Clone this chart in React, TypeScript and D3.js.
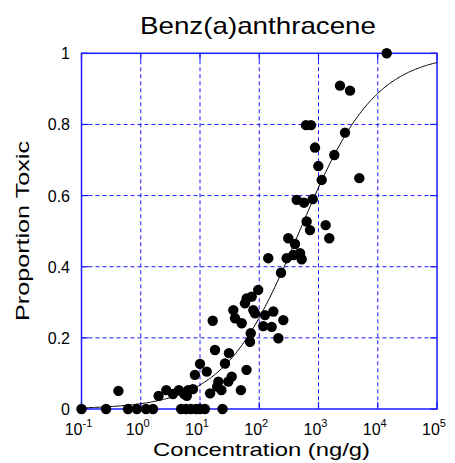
import React from "react";
import * as d3 from "d3";

const title = "Benz(a)anthracene";
const xLabel = "Concentration (ng/g)";
const yLabel = "Proportion Toxic";
const xTickExponents = [-1, 0, 1, 2, 3, 4, 5];
const yTicks = [0, 0.2, 0.4, 0.6, 0.8, 1];
const yTickLabels = ["0", "0.2", "0.4", "0.6", "0.8", "1"];

// concentration (ng/g)
const concentrations = [
  0.1, 0.26, 0.61, 0.86, 1.23, 1.61, 4.8, 5.8, 7.0, 8.6, 10, 12.1, 24,
  0.42, 2.0, 2.7, 3.5, 4.4, 5.4, 6.3, 6.0, 7.6, 10, 8.2, 13, 14.8, 16.4, 17.9,
  20.4, 19.5, 23, 26.4, 30.8, 30, 34.3, 36.5, 39, 50.6, 49, 61, 71.8, 69.9,
  57.4, 61.4, 74.6, 96, 79.4, 84.8, 125, 173, 162, 117, 255, 210, 142, 233,
  290, 376, 520, 488, 309, 401, 429, 569, 798, 631, 719, 1321, 1520, 615, 746,
  873, 993, 1133, 1849, 2801, 4883, 2307, 3404, 14160,
];
// proportion toxic
const proportions = [
  0, 0, 0, 0, 0, 0, 0, 0, 0, 0, 0, 0, 0,
  0.051, 0.037, 0.053, 0.042, 0.053, 0.042, 0.053, 0.037, 0.056, 0.127, 0.096, 0.105, 0.044, 0.248, 0.166,
  0.077, 0.063, 0.053, 0.128, 0.157, 0.077, 0.091, 0.278, 0.255, 0.241, 0.053, 0.11, 0.213, 0.189,
  0.297, 0.311, 0.316, 0.335, 0.278, 0.269, 0.264, 0.274, 0.231, 0.233, 0.25, 0.199, 0.424, 0.383,
  0.424, 0.433, 0.421, 0.438, 0.48, 0.464, 0.588, 0.58, 0.59, 0.527, 0.503, 0.517, 0.48, 0.798, 0.798,
  0.735, 0.683, 0.644, 0.714, 0.777, 0.649, 0.909, 0.895, 1.0,
];

// fitted logistic model on log10(concentration)
const fitMidpointLog = 2.68;
const fitScale = 0.64;

const W = 455;
const H = 463;
const margin = { left: 81.5, right: 18, top: 53.3, bottom: 54 };

export default function App() {
  const x = d3
    .scaleLog()
    .domain([0.1, 1e5])
    .range([margin.left, W - margin.right]);
  const y = d3
    .scaleLinear()
    .domain([0, 1])
    .range([H - margin.bottom, margin.top]);

  const blue = "#1a1aff";
  const x0 = x.range()[0];
  const x1 = x.range()[1];
  const y0 = y.range()[0];
  const y1 = y.range()[1];

  const curveXs = d3.range(-1, 5.0001, 0.02).map((l) => Math.pow(10, l));
  const curvePts: [number, number][] = curveXs.map((c) => [
    c,
    1 / (1 + Math.exp(-(Math.log10(c) - fitMidpointLog) / fitScale)),
  ]);
  const line = d3
    .line<[number, number]>()
    .x((d) => x(d[0]))
    .y((d) => y(d[1]));

  const font = "Arial, 'Liberation Sans', sans-serif";
  const tickLen = 7;

  return (
    <svg
      width={W}
      height={H}
      style={{ position: "absolute", left: 0, top: 0, background: "#fff" }}
      fontFamily={font}
    >
      <rect x={0} y={0} width={W} height={H} fill="#fff" />
      {/* grid */}
      {xTickExponents.slice(1, -1).map((e) => (
        <line
          key={"gx" + e}
          x1={x(Math.pow(10, e))}
          x2={x(Math.pow(10, e))}
          y1={y1}
          y2={y0}
          stroke={blue}
          strokeWidth={1}
          strokeDasharray="4,3"
        />
      ))}
      {yTicks.slice(1, -1).map((t) => (
        <line
          key={"gy" + t}
          x1={x0}
          x2={x1}
          y1={y(t)}
          y2={y(t)}
          stroke={blue}
          strokeWidth={1}
          strokeDasharray="4,3"
        />
      ))}
      {/* ticks */}
      {xTickExponents.map((e) => (
        <g key={"tx" + e}>
          <line x1={x(Math.pow(10, e))} x2={x(Math.pow(10, e))} y1={y0} y2={y0 - tickLen} stroke={blue} strokeWidth={1.2} />
          <line x1={x(Math.pow(10, e))} x2={x(Math.pow(10, e))} y1={y1} y2={y1 + tickLen} stroke={blue} strokeWidth={1.2} />
        </g>
      ))}
      {yTicks.map((t) => (
        <g key={"ty" + t}>
          <line x1={x0} x2={x0 + tickLen} y1={y(t)} y2={y(t)} stroke={blue} strokeWidth={1.2} />
          <line x1={x1} x2={x1 - tickLen} y1={y(t)} y2={y(t)} stroke={blue} strokeWidth={1.2} />
        </g>
      ))}
      {/* frame */}
      <rect x={x0} y={y1} width={x1 - x0} height={y0 - y1} fill="none" stroke={blue} strokeWidth={1.5} />
      {/* fitted curve */}
      <path d={line(curvePts) || ""} fill="none" stroke="#000" strokeWidth={1} />
      {/* points */}
      {concentrations.map((c, i) => (
        <circle key={"p" + i} cx={x(c)} cy={y(proportions[i])} r={5.2} fill="#000" />
      ))}
      {/* x tick labels */}
      {xTickExponents.map((e) => (
        <text key={"lx" + e} x={x(Math.pow(10, e)) - 3} y={435} fontSize={16} textAnchor="middle" fill="#000">
          10
          <tspan dy={-8} fontSize={11}>
            {String(e)}
          </tspan>
        </text>
      ))}
      {/* y tick labels */}
      {yTicks.map((t, i) => (
        <text key={"ly" + t} x={70} y={y(t) + 6} fontSize={16} textAnchor="end" fill="#000">
          {yTickLabels[i]}
        </text>
      ))}
      <text
        x={258}
        y={34.3}
        fontSize={24}
        textAnchor="middle"
        fill="#000"
        textLength={236}
        lengthAdjust="spacingAndGlyphs"
      >
        {title}
      </text>
      <text
        x={261.5}
        y={455.5}
        fontSize={19}
        textAnchor="middle"
        fill="#000"
        textLength={217}
        lengthAdjust="spacingAndGlyphs"
      >
        {xLabel}
      </text>
      <text
        transform={`translate(28.5, 231) rotate(-90)`}
        fontSize={19}
        textAnchor="middle"
        fill="#000"
        textLength={180}
        lengthAdjust="spacingAndGlyphs"
      >
        {yLabel}
      </text>
    </svg>
  );
}
